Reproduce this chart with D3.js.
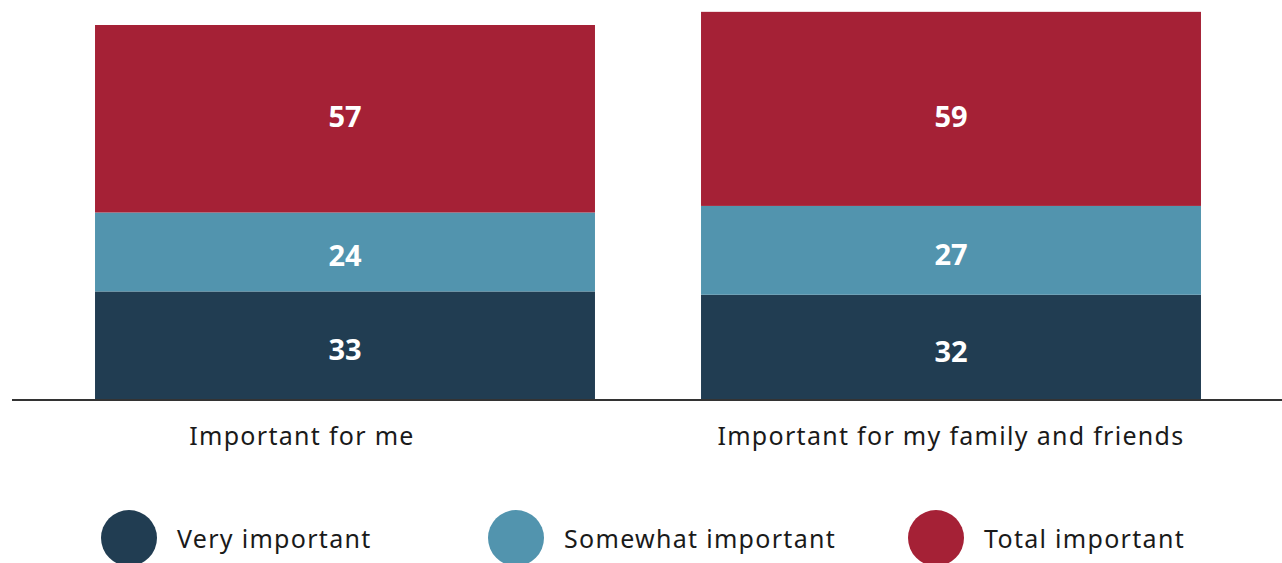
<!DOCTYPE html>
<html>
<head>
<meta charset="utf-8">
<script src="https://cdn.jsdelivr.net/npm/d3@7"></script>
<style>
  html, body { margin: 0; padding: 0; background: #fff; }
  svg { display: block; }
  text { font-family: "Noto Sans", "Open Sans", sans-serif; }
</style>
</head>
<body>
<svg id="chart" width="1282" height="563"></svg>
<script>
// Categories and stacked series (percent)
const categories = ["Important for me", "Important for my family and friends"];
const seriesNames = ["Very important", "Somewhat important", "Total important"];
const veryImportant = [33, 32];
const somewhatImportant = [24, 27];
const totalImportant = [57, 59];

const colors = ["#213d52", "#5294ae", "#a52136"];

const svg = d3.select("#chart");
const W = 1282;
const baseY = 400;

const x = d3.scaleBand()
  .domain(categories)
  .range([42, 1254])
  .paddingInner(0.175)
  .paddingOuter(0.0875);

const y = d3.scaleLinear()
  .domain([0, 121.6])
  .range([baseY, 0]);

const rows = categories.map((c, i) => ({
  category: c,
  "Very important": veryImportant[i],
  "Somewhat important": somewhatImportant[i],
  "Total important": totalImportant[i]
}));

const stacked = d3.stack().keys(seriesNames)(rows);

const layers = svg.append("g").selectAll("g")
  .data(stacked)
  .join("g")
  .attr("fill", (d, i) => colors[i]);

layers.selectAll("rect")
  .data(d => d)
  .join("rect")
  .attr("x", d => x(d.data.category))
  .attr("width", x.bandwidth())
  .attr("y", d => y(d[1]))
  .attr("height", d => y(d[0]) - y(d[1]));

// Segment value labels: lower layers sit at their segment's middle,
// the top layer shares one row across both bars.
const segMid = v => (y(v[0]) + y(v[1])) / 2;
const topLayer = stacked[stacked.length - 1];
const topRowY = d3.mean(topLayer, segMid);

layers.selectAll("text")
  .data(d => d.map(v => ({ v, key: d.key, top: d.index === stacked.length - 1 })))
  .join("text")
  .attr("x", d => x(d.v.data.category) + x.bandwidth() / 2)
  .attr("y", d => (d.top ? topRowY + 1.5 : segMid(d.v) + 3))
  .attr("text-anchor", "middle")
  .attr("dominant-baseline", "central")
  .attr("fill", "#fff")
  .attr("font-weight", "bold")
  .attr("font-size", 29)
  .text(d => d.v.data[d.key]);

// Baseline
svg.append("line")
  .attr("x1", 12).attr("x2", W)
  .attr("y1", baseY).attr("y2", baseY)
  .attr("stroke", "#333")
  .attr("stroke-width", 2);

// Category labels
const labelShift = { "Important for me": -43 };
svg.append("g").selectAll("text")
  .data(categories)
  .join("text")
  .attr("x", c => x(c) + x.bandwidth() / 2 + (labelShift[c] || 0))
  .attr("y", 445)
  .attr("text-anchor", "middle")
  .attr("font-size", 25)
  .attr("letter-spacing", 1.3)
  .attr("fill", "#1a1a1a")
  .text(c => c);

// Legend
const legendX = [129, 516, 936];
const legend = svg.append("g").selectAll("g")
  .data(seriesNames)
  .join("g")
  .attr("transform", (d, i) => `translate(${legendX[i]},538)`);

legend.append("circle")
  .attr("r", 28)
  .attr("fill", (d, i) => colors[i]);

legend.append("text")
  .attr("x", 48)
  .attr("y", 10)
  .attr("font-size", 25)
  .attr("letter-spacing", 1.3)
  .attr("fill", "#1a1a1a")
  .text(d => d);
</script>
</body>
</html>
